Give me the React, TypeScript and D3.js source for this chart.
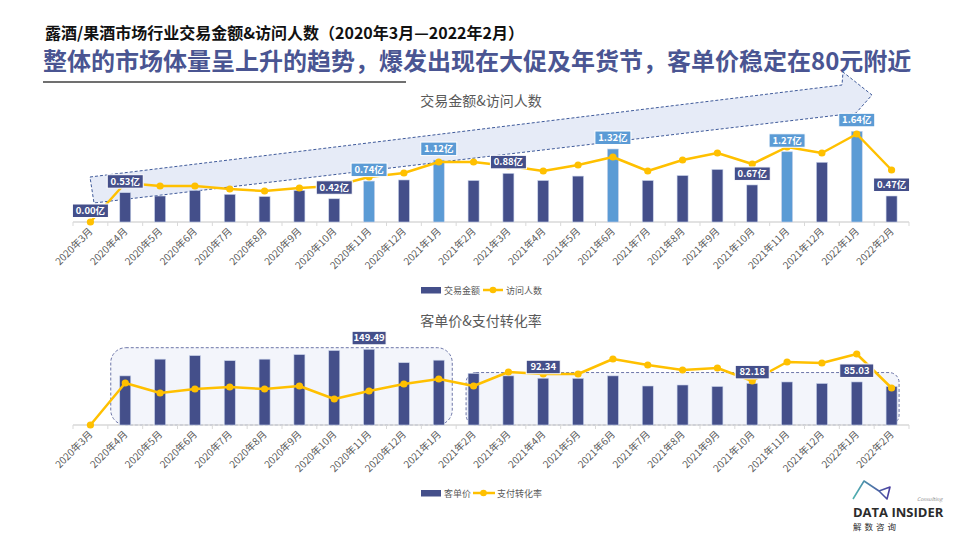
import React from "react";
import * as d3 from "d3";

const months = ["2020年3月","2020年4月","2020年5月","2020年6月","2020年7月","2020年8月","2020年9月","2020年10月","2020年11月","2020年12月","2021年1月","2021年2月","2021年3月","2021年4月","2021年5月","2021年6月","2021年7月","2021年8月","2021年9月","2021年10月","2021年11月","2021年12月","2022年1月","2022年2月"];
// 交易金额 (亿)
const amount = [0.00,0.53,0.47,0.57,0.50,0.46,0.57,0.42,0.74,0.76,1.12,0.75,0.88,0.75,0.83,1.32,0.75,0.84,0.95,0.67,1.27,1.08,1.64,0.47];
const highlightMonths = ["2020年11月","2021年1月","2021年6月","2021年11月","2022年1月"];
const amountLabelMonths = ["2020年3月","2020年4月","2020年10月","2020年11月","2021年1月","2021年3月","2021年6月","2021年10月","2021年11月","2022年1月","2022年2月"];
// 访问人数 (相对值)
const visitors = [0,39,36,36,33,31,34,36,45,49,60,60,56,51,57,65,51,62,69,58,75,69,88,52];
// 客单价
const price = [0,97,130,137,127,130,139,147,149.49,123,128,102,97,92.34,92,97,77,79,76,82.18,85,82,85.03,76];
const priceLabelMonths = ["2020年11月","2021年4月","2021年10月","2022年1月"];
// 支付转化率 (%)
const conversion = [0,4.2,3.2,3.6,3.8,3.6,3.9,2.6,3.4,4.1,4.6,3.9,5.3,5.1,5.1,6.6,6.0,5.5,5.7,4.4,6.3,6.2,7.1,3.7];

const DARK = "#444F8A";
const LIGHT = "#5B9BD5";
const YELLOW = "#FFC000";
const GRAY = "#595959";
const FONT = "'Noto Sans CJK SC', 'Noto Sans', sans-serif";

const x = d3.scaleBand<string>().domain(months).range([73, 909]).padding(0);
const cx = (m: string) => (x(m) as number) + x.bandwidth() / 2;
const BAR_W = 11;

const base1 = 222;
const yAmt = d3.scaleLinear().domain([0, 1.8]).range([base1, base1 - 1.8 * 55.3]);
const yVis = d3.scaleLinear().domain([0, 100]).range([base1, base1 - 100]);

const base2 = 425;
const yPrice = d3.scaleLinear().domain([0, 200]).range([base2, base2 - 200 * 0.5064]);
const yConv = d3.scaleLinear().domain([0, 10]).range([base2, base2 - 100]);

function XAxis({ y }: { y: number }) {
  const r = x.range();
  return (
    <g>
      <line x1={r[0]} x2={r[1]} y1={y} y2={y} stroke="#D9D9D9" strokeWidth={1.5} />
      {months.map((m) => (
        <line key={"t" + m} x1={x(m)} x2={x(m)} y1={y} y2={y + 4} stroke="#D9D9D9" />
      ))}
      <line x1={r[1]} x2={r[1]} y1={y} y2={y + 4} stroke="#D9D9D9" />
      {months.map((m) => (
        <text
          key={m}
          transform={`translate(${cx(m) + 3},${y + 10}) rotate(-45)`}
          textAnchor="end"
          fontSize={10}
          fill={GRAY}
          fontFamily={FONT}
        >
          {m}
        </text>
      ))}
    </g>
  );
}

function Label({ x0, y0, text, color, w }: { x0: number; y0: number; text: string; color: string; w: number }) {
  return (
    <g>
      <rect x={x0 - w / 2} y={y0 - 6.5} width={w} height={13.5} fill={color} stroke="#fff" strokeWidth={1} />
      <text x={x0} y={y0 + 3.6} textAnchor="middle" fontSize={9.5} fontWeight="bold" fill="#fff" fontFamily={FONT}>
        {text}
      </text>
    </g>
  );
}

function Line({ data, yScale }: { data: number[]; yScale: d3.ScaleLinear<number, number> }) {
  const gen = d3.line<number>().x((_, i) => cx(months[i])).y((d) => yScale(d));
  return (
    <g>
      <path d={gen(data) || ""} fill="none" stroke={YELLOW} strokeWidth={2.5} strokeLinejoin="round" />
      {data.map((d, i) => (
        <circle key={i} cx={cx(months[i])} cy={yScale(d)} r={3.6} fill={YELLOW} />
      ))}
    </g>
  );
}

export default function App() {
  const idx = (m: string) => months.indexOf(m);
  const amtLabelH = 11.5;

  // arrow shape around the top chart
  const arrowPts: [number, number][] = [
    [90, 177], [842, 85], [843, 72], [872, 95], [856, 113], [94, 203],
  ];

  // bottom chart group boxes
  const b1s = idx("2020年4月"), b1e = idx("2021年1月");
  const b2s = idx("2021年2月"), b2e = idx("2022年2月");
  const box1 = {
    x: cx(months[b1s]) - BAR_W / 2 - 9,
    x2: cx(months[b1e]) + BAR_W / 2 + 8,
    y: yPrice(d3.max(price.slice(b1s, b1e + 1)) as number) - 1.6,
  };
  const box2 = {
    x: cx(months[b2s]) - BAR_W / 2 - 2,
    x2: cx(months[b2e]) + BAR_W / 2 + 2,
    y: yPrice(d3.max(price.slice(b2s, b2e + 1)) as number) - 0.8,
  };

  return (
    <svg width={960} height={540} style={{ position: "absolute", left: 0, top: 0, background: "#fff" }} fontFamily={FONT}>
      {/* Titles */}
      <text x={45} y={39} fontSize={16} fontWeight="bold" fill="#111">
        露酒/果酒市场行业交易金额&amp;访问人数（2020年3月—2022年2月）
      </text>
      <text x={43} y={70} fontSize={24} fontWeight="bold" fill="#4A5592">
        整体的市场体量呈上升的趋势，爆发出现在大促及年货节，客单价稳定在80元附近
      </text>
      <line x1={43} x2={406} y1={82} y2={82} stroke="#404040" strokeWidth={1.5} />

      {/* Top chart */}
      <text x={481} y={106} textAnchor="middle" fontSize={14} fill={GRAY}>交易金额&amp;访问人数</text>
      <polygon
        points={arrowPts.map((p) => p.join(",")).join(" ")}
        fill="#E6EBF7"
        stroke="#3F5A9A"
        strokeWidth={1}
        strokeDasharray="3,2"
      />
      <XAxis y={base1} />
      {months.map((m, i) => (
        <rect
          key={m}
          x={cx(m) - BAR_W / 2}
          y={yAmt(amount[i])}
          width={BAR_W}
          height={base1 - yAmt(amount[i])}
          fill={highlightMonths.includes(m) ? LIGHT : DARK}
          stroke="#C9D3EA"
          strokeWidth={0.6}
        />
      ))}
      <Line data={visitors} yScale={yVis} />
      {amountLabelMonths.map((m) => {
        const i = idx(m);
        return (
          <Label
            key={m}
            x0={cx(m)}
            y0={yAmt(amount[i]) - amtLabelH}
            text={amount[i].toFixed(2) + "亿"}
            color={highlightMonths.includes(m) ? LIGHT : DARK}
            w={36}
          />
        );
      })}
      {/* Top legend */}
      <rect x={421} y={287} width={20} height={6.5} fill={DARK} />
      <text x={444} y={293.5} fontSize={9} fill={GRAY}>交易金额</text>
      <line x1={483} x2={503} y1={290} y2={290} stroke={YELLOW} strokeWidth={2.5} />
      <circle cx={493} cy={290} r={3.3} fill={YELLOW} />
      <text x={506} y={293.5} fontSize={9} fill={GRAY}>访问人数</text>

      {/* Bottom chart */}
      <text x={481} y={326} textAnchor="middle" fontSize={14} fill={GRAY}>客单价&amp;支付转化率</text>
      {[box1, box2].map((b, k) => (
        <rect
          key={k}
          x={b.x}
          y={b.y}
          width={b.x2 - b.x}
          height={base2 - b.y}
          rx={k === 0 ? 15 : 10}
          fill="#F3F5FB"
          stroke="#6D76A8"
          strokeWidth={1}
          strokeDasharray="3,2"
        />
      ))}
      <XAxis y={base2} />
      {months.map((m, i) => (
        <rect
          key={m}
          x={cx(m) - BAR_W / 2}
          y={yPrice(price[i])}
          width={BAR_W}
          height={base2 - yPrice(price[i])}
          fill={DARK}
          stroke="#C9D3EA"
          strokeWidth={0.6}
        />
      ))}
      <Line data={conversion} yScale={yConv} />
      {priceLabelMonths.map((m) => {
        const i = idx(m);
        return (
          <Label key={m} x0={cx(m)} y0={yPrice(price[i]) - 11.5} text={price[i].toFixed(2)} color={DARK} w={34} />
        );
      })}
      {/* Bottom legend */}
      <rect x={421} y={490} width={20} height={6.5} fill={DARK} />
      <text x={444} y={496.5} fontSize={9} fill={GRAY}>客单价</text>
      <line x1={473} x2={495} y1={493} y2={493} stroke={YELLOW} strokeWidth={2.5} />
      <circle cx={483.5} cy={493} r={3.3} fill={YELLOW} />
      <text x={497} y={496.5} fontSize={9} fill={GRAY}>支付转化率</text>

      {/* Logo */}
      <defs>
        <linearGradient id="lg" x1="0" x2="1" y1="0" y2="0">
          <stop offset="0" stopColor="#4FB3B0" />
          <stop offset="1" stopColor="#4B3FA0" />
        </linearGradient>
      </defs>
      <path d="M853,499 L864,481 L879,491 L890,487 L887,499 L879,491" fill="none" stroke="url(#lg)" strokeWidth={1.6} strokeLinejoin="round" />
      <text x={917} y={501} fontSize={5} fill="#888" fontStyle="italic">Consulting</text>
      <text x={853} y={517} fontSize={13} fontWeight="bold" fill="#2B2B2B" fontFamily="'Open Sans', 'DejaVu Sans', sans-serif">DATA INSIDER</text>
      <text x={853} y={530} fontSize={8.5} fill="#2B2B2B" letterSpacing={3}>解数咨询</text>
    </svg>
  );
}
